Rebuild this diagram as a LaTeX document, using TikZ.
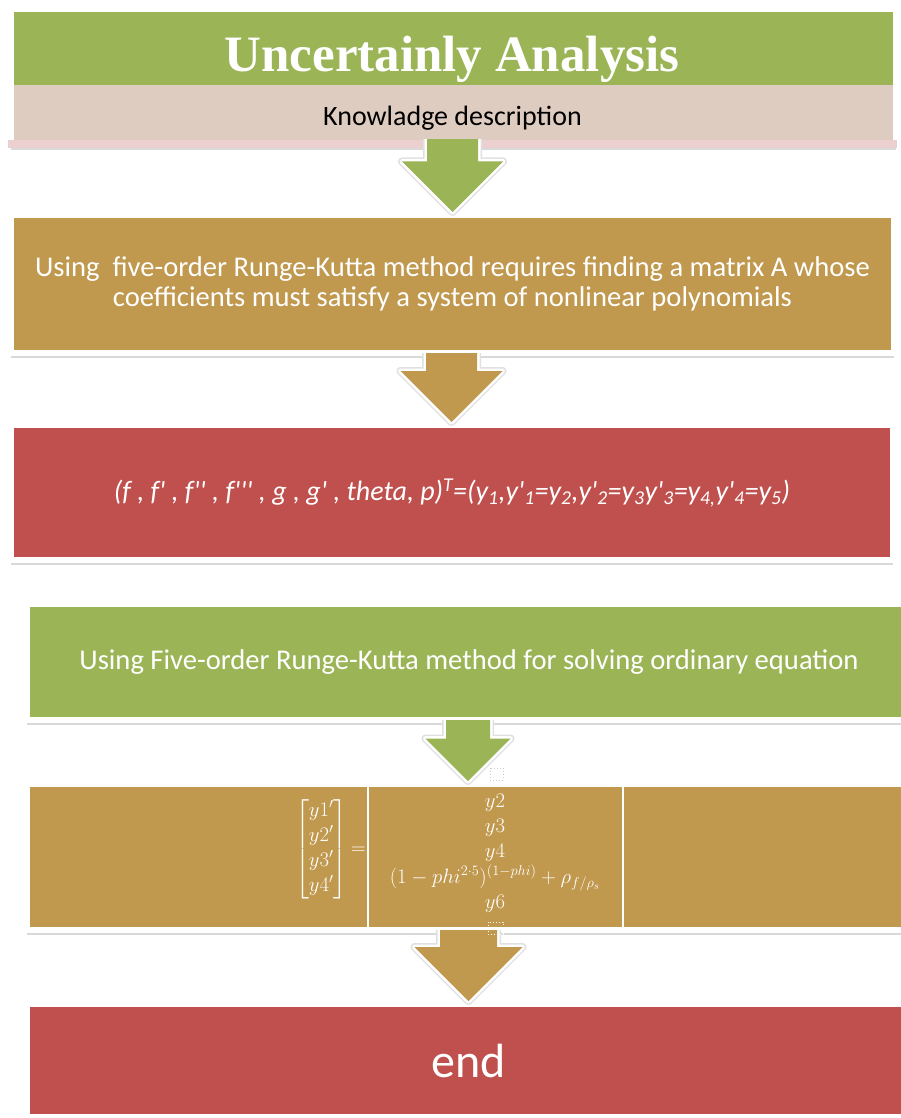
\documentclass[tikz,border=0pt]{standalone}
\usepackage{amsmath}
\usepackage{fontspec}
\setmainfont{Carlito}
\newfontfamily\titlefont{Liberation Serif}
\usetikzlibrary{shadows,calc}

\definecolor{rkgreen}{RGB}{155,181,86}
\definecolor{rktan}{RGB}{192,152,78}
\definecolor{rkred}{RGB}{192,80,77}
\definecolor{bandpink}{RGB}{223,204,192}
\definecolor{bandedge}{RGB}{236,208,208}
\newcommand\sq{\textquotesingle}

\begin{document}
\begin{tikzpicture}[
    x=1pt, y=-1pt,
    box/.style={rectangle, draw=white, line width=6pt, inner sep=0pt,
                text=white, align=center,
                font=\fontsize{28.6}{30}\selectfont,
                drop shadow={shadow xshift=0pt, shadow yshift=-5pt,
                             opacity=0.3, fill=black!50}},
    blockarr/.style={preaction={draw=black!12, line width=8pt, line join=round},
                     preaction={draw=white, line width=5pt, line join=round}},
    mathtext/.style={text=white, inner sep=0pt, font=\fontsize{22}{25}\selectfont}
]
    \path[use as bounding box] (0,0) rectangle (901,1118);
    \clip (0,0) rectangle (901,1118);

    % boxes
    \node[box, fill=rkgreen, minimum width=885pt, minimum height=136pt] (head) at (453.5,77) {};
    \node[fill=bandpink, inner sep=0pt, minimum width=879pt, minimum height=57pt] (know) at (453.5,113.5) {};
    \node[anchor=base, font=\fontsize{28}{30}\selectfont] (knowtext) at (452.5,126) {Knowladge description};
    \node[text=white, anchor=base, font=\titlefont\bfseries\fontsize{51}{55}\selectfont] (title) at (452,72) {Uncertainly Analysis};
    \fill[bandedge] (8,140) rectangle (897,148);

    \node[box, fill=rktan, minimum width=883pt, minimum height=138pt] (method) at (452.5,284)
        {Using\ \ five-order Runge-Kutta method requires finding a matrix A whose\\
         coefficients must satisfy a system of nonlinear polynomials};
    \node[box, fill=rkred, minimum width=882pt, minimum height=135pt, font=\fontsize{28}{30}\selectfont\itshape] (vecform) at (452,492.5)
        {(f , f\sq\ , f\sq\sq\ , f\sq\sq\sq\ , g , g\sq\ , theta, p)\textsuperscript{T}=(y\textsubscript{1},y\sq\textsubscript{1}=y\textsubscript{2},y\sq\textsubscript{2}=y\textsubscript{3}y\sq\textsubscript{3}=y\textsubscript{4,}y\sq\textsubscript{4}=y\textsubscript{5})};
    \node[box, fill=rkgreen, minimum width=884pt, minimum height=116pt] (solver) at (469,662)
        {Using Five-order Runge-Kutta method for solving ordinary equation};
    \node[box, fill=rktan, minimum width=884pt, minimum height=146pt] (system) at (469,857) {};
    \node[box, fill=rkred, minimum width=884pt, minimum height=113pt, font=\fontsize{48}{52}\selectfont] (finish) at (469,1060.5) {end};

    % equation inside the tan box
    \draw[white, line width=1.5pt] (368,772) -- (368,932);
    \draw[white, line width=1.5pt] (623,772) -- (623,932);
    \node[mathtext, anchor=east] (lhs) at (366,849)
        {$\begin{bmatrix}y1'\\y2'\\y3'\\y4'\end{bmatrix}{=}$};
    \node[mathtext] (rhs) at (495,853)
        {$\begin{array}{c}y2\\y3\\y4\\(1-phi^{2\cdot5})^{(1-phi)}+\rho_{f/\rho_s}\\y6\end{array}$};
    \draw[black!20, dotted, line width=1pt] (490,768) rectangle (503,780);

    % block arrows
    \foreach \a/\b/\xc/\sw/\hw/\col in {know/method/452.5/25.5/50.5/rkgreen,
                                         method/vecform/451.5/25.5/51/rktan,
                                         solver/system/468/22/42.5/rkgreen,
                                         system/finish/468.5/28.5/54/rktan}
        \path[blockarr, fill=\col] let \p1=(\a.south), \p2=(\b.north) in
            (\xc pt-\sw pt,\y1+3pt) -- (\xc pt-\sw pt,\y2+\hw pt) -- (\xc pt-\hw pt,\y2+\hw pt)
            -- (\xc pt,\y2) -- (\xc pt+\hw pt,\y2+\hw pt) -- (\xc pt+\sw pt,\y2+\hw pt)
            -- (\xc pt+\sw pt,\y1+3pt);

    \draw[white, dotted, line width=1pt] (488,922) rectangle (503,934);
\end{tikzpicture}
\end{document}
